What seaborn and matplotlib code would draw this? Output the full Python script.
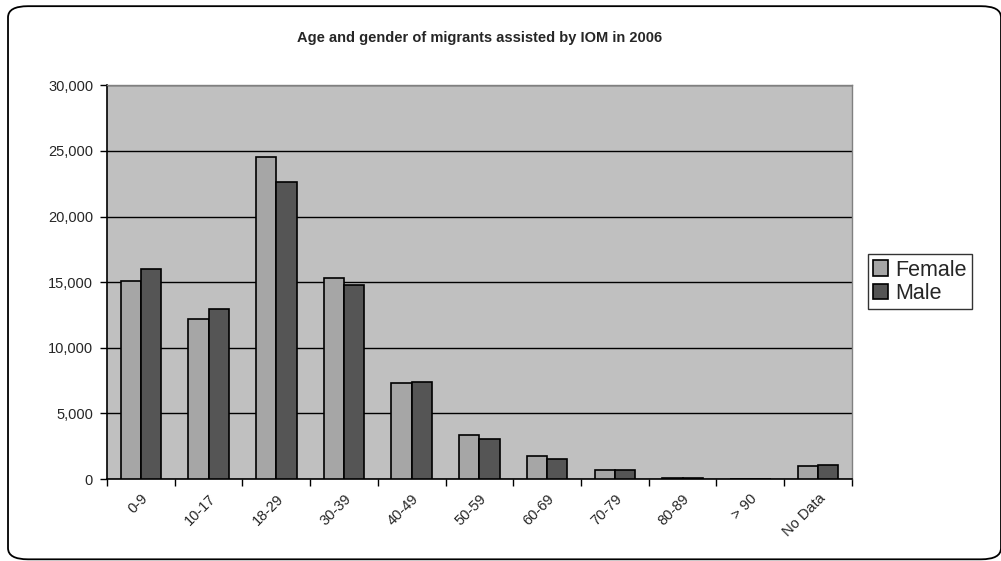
import numpy as np
import pandas as pd
import matplotlib
matplotlib.use("Agg")
import matplotlib.pyplot as plt
from matplotlib.patches import FancyBboxPatch
from matplotlib.ticker import FuncFormatter, MultipleLocator
import seaborn as sns

age_groups = ["0-9", "10-17", "18-29", "30-39", "40-49", "50-59",
              "60-69", "70-79", "80-89", "> 90", "No Data"]
female = [15100, 12180, 24570, 15330, 7310, 3370, 1750, 660, 110, 20, 990]
male = [16000, 12950, 22600, 14800, 7410, 3050, 1550, 660, 100, 15, 1090]

df = pd.DataFrame({
    "age": age_groups * 2,
    "count": female + male,
    "sex": ["Female"] * len(age_groups) + ["Male"] * len(age_groups),
})

sns.set_style("white")
plt.rcParams["font.family"] = ["Liberation Sans", "DejaVu Sans"]

fig = plt.figure(figsize=(10.01, 5.61), dpi=100)
ax = fig.add_axes([0.1069, 0.146, 0.7441, 0.702])

sns.barplot(data=df, x="age", y="count", hue="sex", order=age_groups,
            palette={"Female": "#a6a6a6", "Male": "#555555"},
            width=0.6, edgecolor="black", linewidth=1.2, ax=ax, zorder=3)

ax.set_facecolor("#c0c0c0")
ax.set_ylim(0, 30000)
ax.set_xlim(-0.5, len(age_groups) - 0.5)
ax.yaxis.set_major_locator(MultipleLocator(5000))
ax.yaxis.set_major_formatter(FuncFormatter(lambda v, _: f"{int(v):,}"))
ax.grid(axis="y", color="black", linewidth=1.0, zorder=0)
ax.set_axisbelow(True)
ax.set_xlabel("")
ax.set_ylabel("")

# Category ticks sit on group boundaries, labels stay centred
ax.set_xticks(np.arange(len(age_groups)))
ax.set_xticklabels(age_groups, rotation=45, ha="right", rotation_mode="anchor",
                   fontsize=10.5)
ax.tick_params(axis="x", which="major", length=0, pad=9)
ax.set_xticks(np.arange(-0.5, len(age_groups)), minor=True)
ax.tick_params(axis="x", which="minor", length=5, width=1, color="black",
               direction="out", bottom=True)
ax.tick_params(axis="y", length=5, width=1, color="black", direction="out",
               left=True, labelsize=10.5, pad=5)

for side in ["left", "bottom"]:
    ax.spines[side].set_color("black")
    ax.spines[side].set_linewidth(1.2)
for side in ["top", "right"]:
    ax.spines[side].set_color("#808080")
    ax.spines[side].set_linewidth(1.0)

fig.text(0.479, 0.933, "Age and gender of migrants assisted by IOM in 2006",
         ha="center", va="center", fontsize=10.5, fontweight="bold")

handles, labels = ax.get_legend_handles_labels()
leg = ax.legend(handles, labels, loc="center left",
                bbox_to_anchor=(0.867, 0.498), bbox_transform=fig.transFigure,
                frameon=True, fancybox=False, edgecolor="black", fontsize=15.5,
                handlelength=0.7, handleheight=0.7, handletextpad=0.3,
                borderpad=0.25, labelspacing=0.1, borderaxespad=0)
leg.get_frame().set_linewidth(1.0)

frame = FancyBboxPatch((0.008, 0.003), 0.992, 0.986,
                       boxstyle="round,pad=0,rounding_size=0.02",
                       transform=fig.transFigure, fill=False,
                       edgecolor="black", linewidth=1.3)
fig.patches.append(frame)

fig.savefig("out.png", dpi=100, facecolor="white")
